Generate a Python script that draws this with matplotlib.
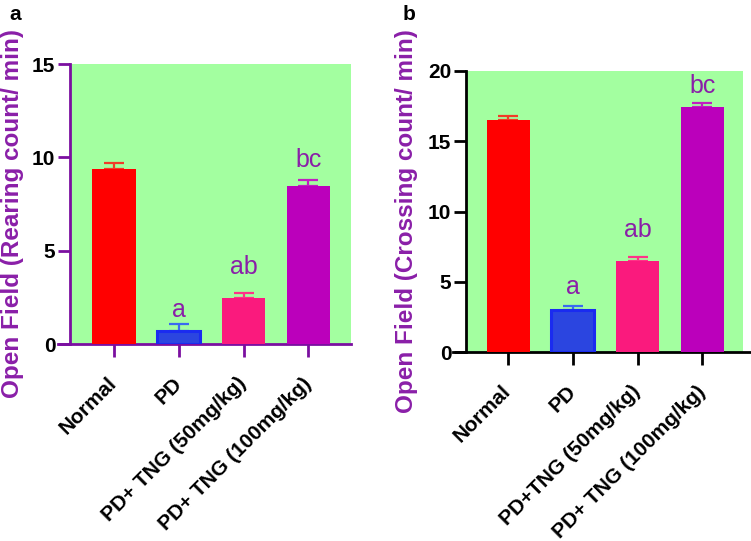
import numpy as np
import matplotlib.pyplot as plt

plt.rcParams['font.family'] = ['Liberation Sans', 'DejaVu Sans']

# data
groups_a = ['Normal', 'PD', 'PD+ TNG (50mg/kg)', 'PD+ TNG (100mg/kg)']
groups_b = ['Normal', 'PD', 'PD+TNG (50mg/kg)', 'PD+ TNG (100mg/kg)']

rearing = [9.37, 0.70, 2.45, 8.46]
rearing_err = [0.33, 0.39, 0.30, 0.31]
rearing_sig = ['', 'a', 'ab', 'bc']
rearing_sig_y = [0, 1.8, 4.1, 9.85]

crossing = [16.48, 2.97, 6.45, 17.43]
crossing_err = [0.33, 0.33, 0.31, 0.31]
crossing_sig = ['', 'a', 'ab', 'bc']
crossing_sig_y = [0, 4.6, 8.66, 18.96]

bar_colors = ['#ff0000', '#2b45e0', '#fa1a7d', '#bb00bb']
edge_colors = ['#ff0000', '#1a2bf0', '#fa1a7d', '#bb00bb']
err_colors = ['#f03c28', '#3a6af0', '#ff3388', '#c020c0']
green = '#a3ffa0'
purple_axis = '#7b0fa0'
purple_text = '#8a1fa8'

fig = plt.figure(figsize=(7.51, 5.41), dpi=100)
W, H = 751, 541


def panel(rect_px, xlim, ylim, yticks, vals, errs, sig, sig_y, labels,
          axis_color, xspine):
    l, t, r, b = rect_px
    ax = fig.add_axes([l / W, 1 - b / H, (r - l) / W, (b - t) / H])
    ax.set_facecolor(green)
    x = np.arange(len(vals))
    for i in range(len(vals)):
        lw = 2.2 if i == 1 else 0
        ax.bar(x[i], vals[i], width=0.665, color=bar_colors[i],
               edgecolor=edge_colors[i], linewidth=lw, zorder=3)
        ax.errorbar(x[i], vals[i], yerr=[[0], [errs[i]]], color=err_colors[i],
                    capsize=7.5, elinewidth=1.6, capthick=1.6, zorder=2)
        if sig[i]:
            ax.text(x[i], sig_y[i], sig[i], ha='center', va='center',
                    fontsize=18, color=purple_text, zorder=4)
    ax.set_xlim(*xlim)
    ax.set_ylim(*ylim)
    ax.set_yticks(yticks)
    ax.set_xticks(x)
    ax.set_xticklabels(labels, rotation=45, ha='right', va='center',
                       rotation_mode='anchor', fontsize=15, fontweight='bold')
    for lab in ax.get_yticklabels():
        lab.set_fontweight('bold')
        lab.set_fontsize(15)
    for s in ['top', 'right']:
        ax.spines[s].set_visible(False)
    for s in ['left', 'bottom']:
        ax.spines[s].set_color(axis_color)
        ax.spines[s].set_linewidth(2)
    ax.spines['bottom'].set_bounds(*xspine)
    ax.spines['left'].set_bounds(*ylim)
    ax.tick_params(axis='y', length=8.6, width=2, color=axis_color, pad=2)
    ax.tick_params(axis='x', length=9.4, width=2, color=axis_color, pad=17)
    return ax


ax1 = panel((70, 64, 351, 344), (-0.68, 3.66), (0, 15), [0, 5, 10, 15],
            rearing, rearing_err, rearing_sig, rearing_sig_y, groups_a,
            purple_axis, (-0.87, 3.66))
ax2 = panel((466, 71, 743, 352), (-0.65, 3.63), (0, 20), [0, 5, 10, 15, 20],
            crossing, crossing_err, crossing_sig, crossing_sig_y, groups_b,
            'black', (-0.85, 3.76))

fig.text(13 / W, 1 - 214 / H, 'Open Field (Rearing count/ min)', rotation=90,
         ha='center', va='center', fontsize=17.5, fontweight='bold',
         color=purple_text)
fig.text(407 / W, 1 - 221 / H, 'Open Field (Crossing count/ min)', rotation=90,
         ha='center', va='center', fontsize=17.5, fontweight='bold',
         color=purple_text)
fig.text(15 / W, 1 - 15 / H, 'a', ha='center', va='center', fontsize=15,
         fontweight='bold')
fig.text(409 / W, 1 - 14 / H, 'b', ha='center', va='center', fontsize=15,
         fontweight='bold')

fig.savefig('out.png', dpi=100)
